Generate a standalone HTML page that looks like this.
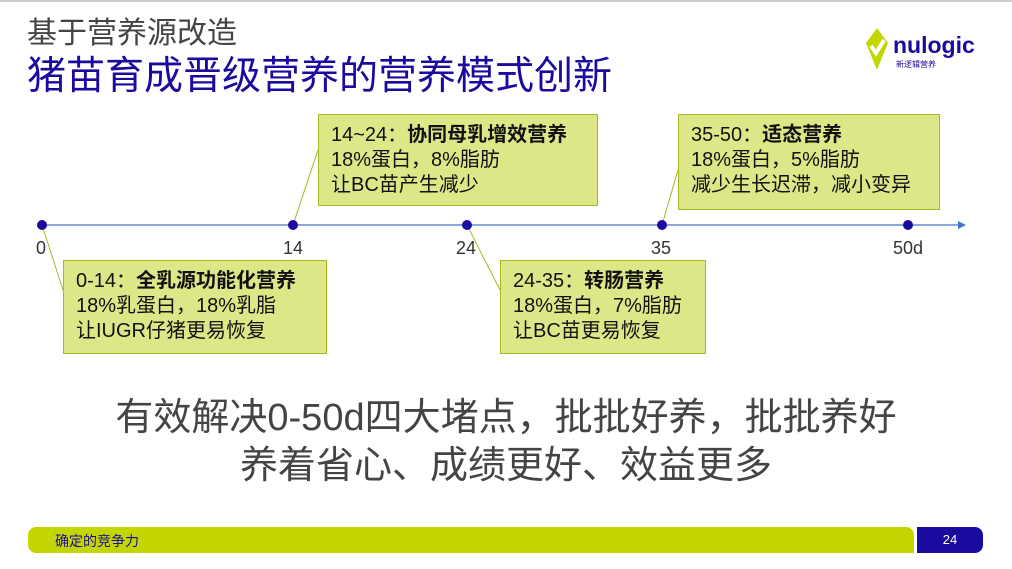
<!DOCTYPE html>
<html><head><meta charset="utf-8"><style>
body{margin:0;width:1012px;height:569px;position:relative;background:#fff;overflow:hidden;font-family:"Liberation Sans","Noto Sans CJK SC",sans-serif;}
.a{position:absolute;}
.box{position:absolute;background:#dde787;border:1px solid #a8b820;box-sizing:border-box;padding:8px 12px;font-size:20px;line-height:25px;color:#111;white-space:nowrap;}
.box b{font-weight:bold;}
.lbl{position:absolute;font-size:18px;color:#333;}
</style></head><body>
<div class="a" style="left:0;top:0;width:1012px;height:2px;background:#ccc"></div>
<div class="a" style="left:27px;top:8px;font-size:30px;color:#444">基于营养源改造</div>
<div class="a" style="left:27px;top:45px;font-size:39px;color:#1a0a9e">猪苗育成晋级营养的营养模式创新</div>
<svg class="a" style="left:862px;top:26px" width="130" height="44">
<path d="M15 2 L26 17 L15 44 L4 17 Z" fill="#c4d600"/>
<path d="M9 20 L14 27 L22 14" stroke="#fff" stroke-width="4" fill="none"/>
<text x="31" y="27" font-family="Liberation Sans" font-weight="bold" font-size="23" fill="#1a0a9e">nulogic</text>
<text x="34" y="41" font-family="Noto Sans CJK SC" font-size="8" fill="#1a0a9e">新逻辑营养</text>
</svg>
<svg class="a" style="left:0;top:0" width="1012" height="569">
<line x1="42" y1="225" x2="960" y2="225" stroke="#4472c4" stroke-width="1.3"/>
<path d="M958 221 L966 225 L958 229 Z" fill="#4472c4"/>
<g stroke="#a8b820" stroke-width="1">
<line x1="293" y1="225" x2="318" y2="150"/>
<line x1="42" y1="225" x2="63" y2="290"/>
<line x1="467" y1="225" x2="500" y2="290"/>
<line x1="662" y1="225" x2="678" y2="170"/>
</g>
<g fill="#1a0a9e"><circle cx="42" cy="225" r="5"/><circle cx="293" cy="225" r="5"/><circle cx="467" cy="225" r="5"/><circle cx="662" cy="225" r="5"/><circle cx="908" cy="225" r="5"/></g>
</svg>
<div class="lbl" style="left:36px;top:238px">0</div>
<div class="lbl" style="left:283px;top:238px">14</div>
<div class="lbl" style="left:456px;top:238px">24</div>
<div class="lbl" style="left:651px;top:238px">35</div>
<div class="lbl" style="left:893px;top:238px">50d</div>
<div class="box" style="left:318px;top:114px;width:280px;height:92px">14~24：<b>协同母乳增效营养</b><br>18%蛋白，8%脂肪<br>让BC苗产生减少</div>
<div class="box" style="left:678px;top:114px;width:262px;height:96px">35-50：<b>适态营养</b><br>18%蛋白，5%脂肪<br>减少生长迟滞，减小变异</div>
<div class="box" style="left:63px;top:260px;width:264px;height:94px">0-14：<b>全乳源功能化营养</b><br>18%乳蛋白，18%乳脂<br>让IUGR仔猪更易恢复</div>
<div class="box" style="left:500px;top:260px;width:206px;height:94px">24-35：<b>转肠营养</b><br>18%蛋白，7%脂肪<br>让BC苗更易恢复</div>
<div class="a" style="left:0;width:1012px;top:394px;text-align:center;font-size:38px;line-height:48px;color:#444">有效解决0-50d四大堵点，批批好养，批批养好<br>养着省心、成绩更好、效益更多</div>
<div class="a" style="left:28px;top:527px;width:886px;height:26px;background:#c4d600;border-radius:8px 8px 0 8px"></div>
<div class="a" style="left:55px;top:531px;font-size:14px;color:#1a0a9e">确定的竞争力</div>
<div class="a" style="left:917px;top:527px;width:66px;height:26px;background:#1a0a9e;border-radius:0 8px 8px 0;color:#fff;font-size:13px;text-align:center;line-height:26px">24</div>
</body></html>
